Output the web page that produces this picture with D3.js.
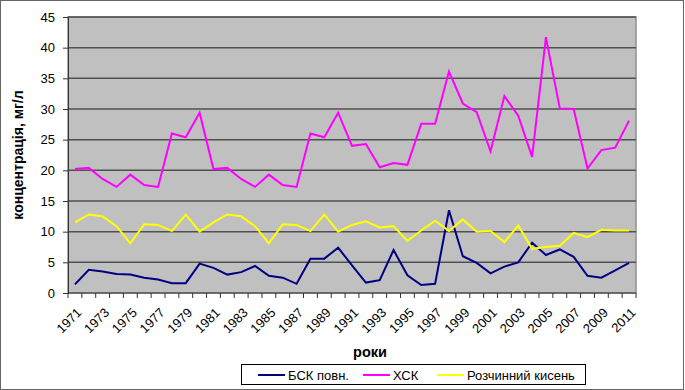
<!DOCTYPE html>
<html>
<head>
<meta charset="utf-8">
<script src="https://cdn.jsdelivr.net/npm/d3@7"></script>
<style>
  body { margin: 0; background: #fff; }
  text { font-family: "Liberation Sans", Arial, sans-serif; }
</style>
</head>
<body>
<div class="chart"></div>
<script>
const years = d3.range(1971, 2012);
const bsk = [1.4, 3.8, 3.5, 3.1, 3.0, 2.5, 2.2, 1.6, 1.6, 4.8,
             4.1, 3.0, 3.4, 4.4, 2.8, 2.5, 1.5, 5.6, 5.6, 7.4,
             4.5, 1.7, 2.1, 7.0, 2.9, 1.3, 1.5, 13.5, 6.0, 4.9,
             3.2, 4.3, 5.0, 8.2, 6.2, 7.1, 5.9, 2.8, 2.5, 3.7, 4.9];
const xsk = [20.2, 20.4, 18.6, 17.3, 19.3, 17.6, 17.3, 26.0, 25.4, 29.4,
             20.2, 20.4, 18.6, 17.3, 19.3, 17.6, 17.3, 26.0, 25.4, 29.4,
             24.0, 24.3, 20.5, 21.2, 20.9, 27.6, 27.6, 36.1, 30.9, 29.5,
             23.1, 32.1, 28.9, 22.2, 41.7, 30.1, 30.0, 20.3, 23.3, 23.7, 28.1];
const oxygen = [11.5, 12.8, 12.5, 10.9, 8.1, 11.2, 11.1, 10.1, 12.8, 10.0,
                11.5, 12.8, 12.5, 10.9, 8.1, 11.2, 11.1, 10.1, 12.8, 10.0,
                11.1, 11.7, 10.7, 10.9, 8.5, 10.2, 11.8, 10.1, 12.0, 10.0,
                10.1, 8.3, 11.0, 7.2, 7.5, 7.7, 9.8, 9.1, 10.3, 10.2, 10.2];
const yTicks = [0, 5, 10, 15, 20, 25, 30, 35, 40, 45];
const seriesNames = ['БСК повн.', 'ХСК', 'Розчинний кисень'];
const seriesColors = ['#000080', '#FF00FF', '#FFFF00'];
const seriesData = [bsk, xsk, oxygen];

const W = 685, H = 390;
const plot = {left: 68, right: 636, top: 17, bottom: 293};

const svg = d3.select('.chart')
    .append('svg')
    .attr('width', W)
    .attr('height', H);

// outer chart border
svg.append('rect')
    .attr('x', 0.5).attr('y', 0.5)
    .attr('width', W - 2).attr('height', H - 1)
    .attr('fill', '#fff')
    .attr('stroke', '#666');

const xScale = d3.scaleBand()
    .domain(years)
    .range([plot.left, plot.right])
    .padding(0);

const yScale = d3.scaleLinear()
    .domain([0, 45])
    .range([plot.bottom, plot.top]);

// plot area
svg.append('rect')
    .attr('x', plot.left).attr('y', plot.top)
    .attr('width', plot.right - plot.left)
    .attr('height', plot.bottom - plot.top)
    .attr('fill', '#C0C0C0')
    .attr('stroke', '#909090')
    .attr('stroke-width', 1.5);

// gridlines
svg.append('g')
    .selectAll('line')
    .data(yTicks.filter(d => d > 0))
    .enter()
    .append('line')
    .attr('x1', plot.left).attr('x2', plot.right)
    .attr('y1', d => yScale(d)).attr('y2', d => yScale(d))
    .attr('stroke', '#505050')
    .attr('stroke-width', 1.5);

// y axis
const yAxis = d3.axisLeft(yScale)
    .tickValues(yTicks)
    .tickSize(5)
    .tickPadding(8);

const gy = svg.append('g')
    .attr('class', 'axis y-axis')
    .attr('transform', 'translate(' + plot.left + ',0)')
    .call(yAxis);
gy.select('.domain').attr('stroke', '#333');
gy.selectAll('.tick line').attr('stroke', '#333');
gy.selectAll('.tick text').attr('font-size', 13).attr('fill', '#000')
    .style('font-family', '"Liberation Sans", Arial, sans-serif');

// x axis: ticks at category boundaries, labels every second year
const gx = svg.append('g')
    .attr('class', 'axis x-axis');
gx.append('line')
    .attr('x1', plot.left).attr('x2', plot.right)
    .attr('y1', plot.bottom).attr('y2', plot.bottom)
    .attr('stroke', '#333');
gx.selectAll('line.tk')
    .data(years.concat([2012]))
    .enter()
    .append('line')
    .attr('class', 'tk')
    .attr('x1', d => d === 2012 ? plot.right : xScale(d))
    .attr('x2', d => d === 2012 ? plot.right : xScale(d))
    .attr('y1', plot.bottom).attr('y2', plot.bottom + 5)
    .attr('stroke', '#333');
gx.selectAll('text')
    .data(years.filter((d, i) => i % 2 === 0))
    .enter()
    .append('text')
    .attr('transform', d => 'translate(' + (xScale(d) + xScale.bandwidth() / 2 + 1) + ',' + (plot.bottom + 14) + ') rotate(-45)')
    .attr('text-anchor', 'end')
    .attr('dy', '0.7em')
    .attr('font-size', 13)
    .text(d => d);

// lines
const line = d3.line()
    .x((d, i) => xScale(years[i]) + xScale.bandwidth() / 2)
    .y(d => yScale(d));

svg.append('g')
    .selectAll('path')
    .data(seriesData)
    .enter()
    .append('path')
    .attr('d', d => line(d))
    .attr('fill', 'none')
    .attr('stroke', (d, i) => seriesColors[i])
    .attr('stroke-width', 2)
    .attr('stroke-linejoin', 'miter');

// axis titles
svg.append('text')
    .attr('x', 370)
    .attr('y', 357)
    .attr('text-anchor', 'middle')
    .attr('font-size', 14.5)
    .attr('font-weight', 'bold')
    .text('роки');

svg.append('text')
    .attr('transform', 'translate(23,' + ((plot.top + plot.bottom) / 2) + ') rotate(-90)')
    .attr('text-anchor', 'middle')
    .attr('font-size', 14)
    .attr('font-weight', 'bold')
    .text('концентрація, мг/л');

// legend
const legend = svg.append('g').attr('transform', 'translate(241,364)');
legend.append('rect')
    .attr('x', 0.5).attr('y', 0.5)
    .attr('width', 344).attr('height', 20)
    .attr('fill', '#fff')
    .attr('stroke', '#000');
const legendX = [17, 122, 196];
const items = legend.selectAll('g.item')
    .data(seriesNames)
    .enter()
    .append('g')
    .attr('class', 'item')
    .attr('transform', (d, i) => 'translate(' + legendX[i] + ',0)');
items.append('line')
    .attr('x1', 0).attr('x2', 27)
    .attr('y1', 11).attr('y2', 11)
    .attr('stroke', (d, i) => seriesColors[i])
    .attr('stroke-width', 2);
items.append('text')
    .attr('x', 30).attr('y', 15.5)
    .attr('font-size', 13)
    .text(d => d);
</script>
</body>
</html>
